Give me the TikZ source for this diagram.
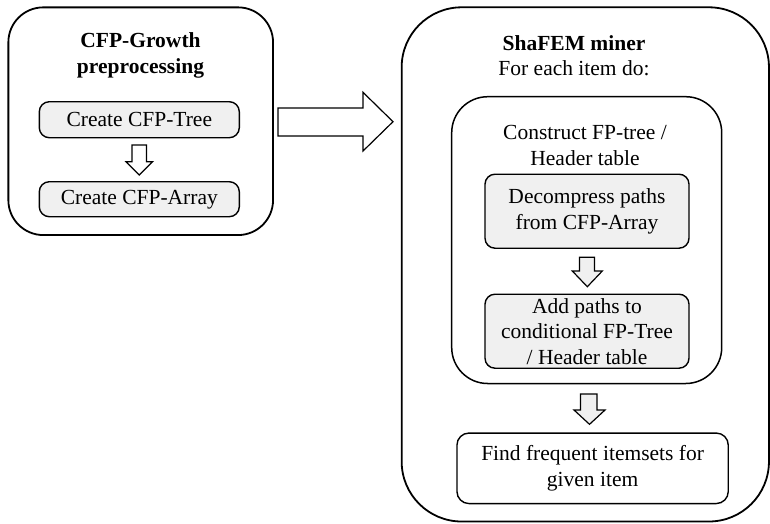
\documentclass[tikz,border=0pt]{standalone}
\usepackage{fontspec}
\setmainfont{Liberation Serif}
\begin{document}
\begin{tikzpicture}[x=1pt,y=-1pt,
  every node/.style={font=\fontsize{21.5}{25.5}\selectfont, align=center, inner sep=0pt},
  outerbox/.style={draw, line width=1.8pt, rectangle},
  stepbox/.style={draw, line width=1.4pt, rectangle, rounded corners=10pt, fill=gray!12},
  whitebox/.style={draw, line width=1.4pt, rectangle, rounded corners=12pt, fill=white},
  blockarrow/.style={draw, line width=1.2pt, line join=miter},
  titletext/.style={font=\bfseries\fontsize{21.5}{25.5}\selectfont}
]
\useasboundingbox (0,0) rectangle (770,523);

% left box
\node[outerbox, rounded corners=35pt, minimum width=264.7pt, minimum height=227.7pt] (pre) at (140.7,121.2) {};
\node[titletext] (pretitle) at (140.5,55.5) {CFP-Growth\\preprocessing};
\node[stepbox, minimum width=200pt, minimum height=36pt] (tree) at (139.3,119.7) {Create CFP-Tree};
\node[stepbox, minimum width=200pt, minimum height=35pt] (array) at (139.3,199.2) {Create CFP-Array};

% right box
\node[outerbox, rounded corners=60pt, minimum width=367.3pt, minimum height=514.2pt] (miner) at (585.3,264.4) {};
\node (minertitle) at (574,55.5) {\textbf{ShaFEM miner}\\For each item do:};
\node[outerbox, line width=1.5pt, rounded corners=36pt, minimum width=270pt, minimum height=286.8pt] (construct) at (586.7,240.1) {};
\node (constructtitle) at (585,145.5) {Construct FP-tree /\\Header table};
\node[stepbox, minimum width=204pt, minimum height=74pt] (decomp) at (587,211.2) {Decompress paths\\from CFP-Array};
\node[stepbox, minimum width=204pt, minimum height=74pt] (addpaths) at (587,331.2) {Add paths to\\conditional FP-Tree\\/ Header table};
\node[whitebox, minimum width=271.3pt, minimum height=70.5pt] (find) at (592.6,468.3) {Find frequent itemsets for\\given item};

% big arrow
\draw[blockarrow, fill=white] (278,108) -- (363,108) -- (363,92.3) -- (393,121.7) -- (363,151) -- (363,136) -- (278,136) -- cycle;

% small arrows
\draw[blockarrow, fill=white] (132,145) -- (146.5,145) -- (146.5,161.7) -- (152.6,161.7) -- (139.3,175) -- (126,161.7) -- (132,161.7) -- cycle;
\draw[blockarrow, fill=gray!12] (579.5,257.3) -- (594.5,257.3) -- (594.5,271) -- (602.3,271) -- (587.3,286.7) -- (572.3,271) -- (579.5,271) -- cycle;
\draw[blockarrow, fill=gray!12] (580.5,394) -- (597,394) -- (597,410) -- (605,410) -- (589.5,424.3) -- (574,410) -- (580.5,410) -- cycle;
\end{tikzpicture}
\end{document}
